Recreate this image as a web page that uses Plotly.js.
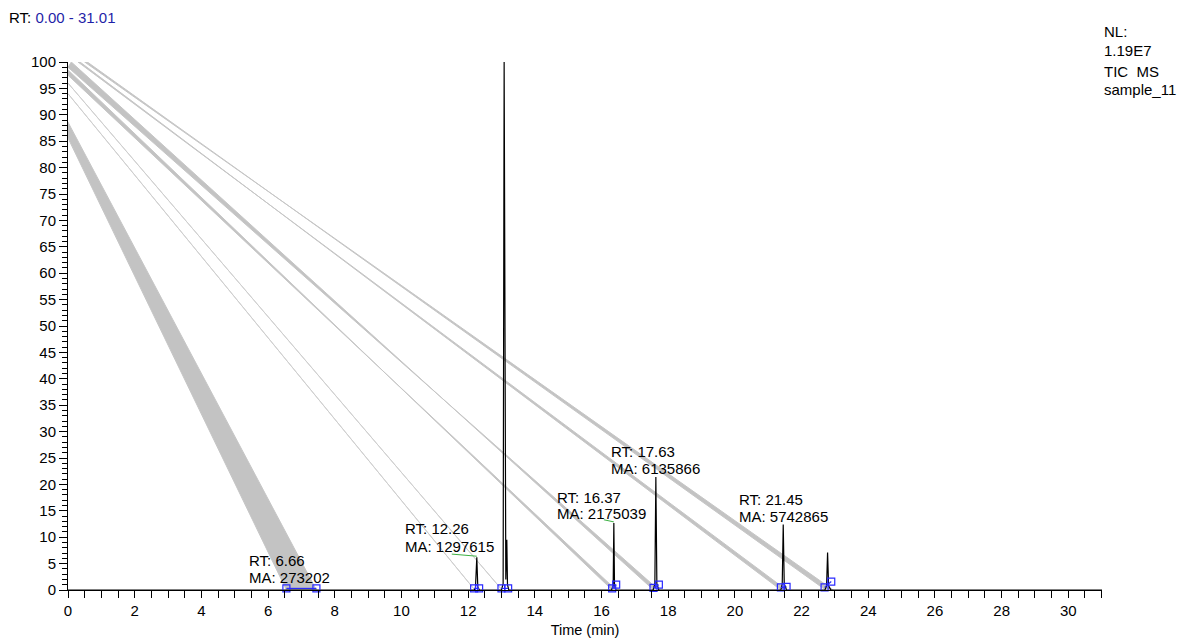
<!DOCTYPE html>
<html><head><meta charset="utf-8">
<script src="https://cdn.plot.ly/plotly-3.0.1.min.js"></script>
<style>html,body{margin:0;padding:0;background:#fff;}#chart{width:1179px;height:639px;}</style>
</head><body><div id="chart"></div>
<script>
// ---- chromatogram (time in min, relative abundance %) ----
const timePts   = [0, 6.5, 6.66, 7.5, 12.18, 12.22, 12.26, 12.29, 12.34, 13.0, 13.05, 13.08, 13.11, 13.13, 13.16, 13.18, 13.22, 16.3, 16.35, 16.37, 16.39, 16.43, 17.55, 17.6, 17.63, 17.66, 17.72, 21.38, 21.42, 21.45, 21.48, 21.55, 22.7, 22.75, 22.78, 22.81, 22.88, 31.01];
const abundance = [0, 0, 0.1, 0, 0, 0.4, 6.2, 0.5, 0, 0, 1.2, 100, 3, 2, 9.5, 1, 0, 0, 0.8, 12.7, 0.8, 0, 0, 1.2, 21.4, 1.2, 0, 0, 1.2, 12.4, 1.2, 0, 0, 0.8, 7.1, 0.8, 0, 0];

// ---- integrated peaks ----
const peakRT     = [6.66, 12.26, 13.08, 16.37, 17.63, 21.45, 22.78];
const peakArea   = [273202, 1297615, 24352650, 2175039, 6135866, 5742865, null];
const peakHeight = [0.1, 6.2, 100, 12.7, 21.4, 12.4, 7.1];
const baseStartT = [6.55, 12.18, 13.0, 16.32, 17.56, 21.38, 22.69];
const baseEndT   = [7.45, 12.33, 13.2, 16.44, 17.72, 21.55, 22.89];
const baseStartY = [0.3, 0.3, 0.3, 0.3, 0.4, 0.5, 0.5];
const baseEndY   = [0.3, 0.3, 0.3, 1.0, 1.0, 0.6, 1.6];
// mis-drawn area-fill polygons: two apexes near the origin, two feet on the time axis
const apexT1 = [0, 0, 0, 0, 0, 0.3, 0.5];
const apexY1 = [88.6, 94, 96, 97.5, 99, 100, 100];
const apexT2 = [0, 0, 0, 0, 0.1, 0.36, 0.58];
const apexY2 = [85.6, 94, 96, 98.5, 100, 100, 100];
const footT1 = [7.45, 12.2, 13.02, 16.44, 17.72, 21.55, 22.95];
const footT2 = [6.55, 12.2, 13.02, 16.32, 17.56, 21.38, 22.72];

// ---- header texts ----
const rangeText = ["RT: ", "0.00 - 31.01"];
const nlText = ["NL:", "1.19E7", "TIC  MS", "sample_11"];

// label layout (left edge time, line-1 and line-2 abundance)
const labelT  = [5.39, 10.07, 11.57, 14.65, 16.24, 20.08];
const labelY1 = [5.5, 11.7, 105.3, 17.6, 26.3, 17.2];
const labelY2 = [2.3, 8.3, 102.1, 14.4, 23.1, 14.0];

const FONT = "Liberation Sans, Arial, sans-serif";
const traces = [];

// gray fills
for (let i = 0; i < peakRT.length; i++) {
  const thin = footT1[i] === footT2[i] && apexY1[i] === apexY2[i];
  traces.push({
    x: [apexT1[i], footT1[i], footT2[i], apexT2[i], apexT1[i]],
    y: [apexY1[i], 0, 0, apexY2[i], apexY1[i]],
    type: 'scatter', mode: 'lines', fill: thin ? 'none' : 'toself',
    fillcolor: '#c3c3c3', line: {color: thin ? '#cfcfcf' : '#c6c6c6', width: 1},
    hoverinfo: 'skip', showlegend: false
  });
}
// chromatogram
traces.push({x: timePts, y: abundance, type: 'scatter', mode: 'lines',
  line: {color: '#000', width: 1.2}, showlegend: false, hoverinfo: 'skip'});
// baselines + markers
for (let i = 0; i < peakRT.length; i++) {
  traces.push({x: [baseStartT[i], baseEndT[i]], y: [baseStartY[i], baseEndY[i]],
    type: 'scatter', mode: 'lines+markers', line: {color: '#2a2aff', width: 1.2},
    marker: {symbol: 'square-open', size: 7, color: '#2a2aff', line: {width: 1.2}},
    showlegend: false, hoverinfo: 'skip', cliponaxis: false});
}
// green leader lines for two labels
[1, 3].forEach(i => {
  traces.push({x: [peakRT[i] - (i === 1 ? 0.75 : 0.3), peakRT[i]], y: [peakHeight[i] + 0.6, peakHeight[i] + 0.2],
    type: 'scatter', mode: 'lines', line: {color: '#3cb043', width: 1},
    showlegend: false, hoverinfo: 'skip'});
});

const annotations = [];
for (let i = 0; i < labelT.length; i++) {
  annotations.push({x: labelT[i], y: labelY1[i], xref: 'x', yref: 'y', xanchor: 'left', yanchor: 'middle',
    text: 'RT: ' + peakRT[i].toFixed(2), showarrow: false, font: {family: FONT, size: 15, color: '#000'}, borderpad: 0});
  annotations.push({x: labelT[i], y: labelY2[i], xref: 'x', yref: 'y', xanchor: 'left', yanchor: 'middle',
    text: 'MA: ' + peakArea[i], showarrow: false, font: {family: FONT, size: 15, color: '#000'}, borderpad: 0});
}
// header (pixel based -> paper)
const W = 1179, H = 639, L = 68, R = 77, T = 62, B = 49;
const pw = W - L - R, ph = H - T - B;
function px(xp) { return (xp - L) / pw; }
function py(yp) { return (H - B - yp) / ph; }
annotations.push({x: px(8), y: py(17), xref: 'paper', yref: 'paper', xanchor: 'left', yanchor: 'middle',
  text: rangeText[0] + '<span style="color:#1f1fa8">' + rangeText[1] + '</span>', showarrow: false,
  font: {family: FONT, size: 15, color: '#000'}, borderpad: 0});
const nlY = [32, 50, 71, 89];
nlText.forEach((t, k) => annotations.push({x: px(1103), y: py(nlY[k]), xref: 'paper', yref: 'paper',
  xanchor: 'left', yanchor: 'middle', text: t, showarrow: false, font: {family: FONT, size: 15, color: '#000'}, borderpad: 0}));

const layout = {
  width: W, height: H, margin: {l: L, r: R, t: T, b: B, pad: 0},
  paper_bgcolor: '#fff', plot_bgcolor: '#fff', showlegend: false,
  font: {family: FONT, size: 15, color: '#000'},
  xaxis: {range: [0, 31.01], tickmode: 'linear', tick0: 0, dtick: 2, ticks: 'outside', ticklen: 7, tickwidth: 1,
    tickcolor: '#000', showline: true, linecolor: '#000', linewidth: 1, showgrid: false, zeroline: false,
    tickfont: {family: FONT, size: 15, color: '#000'},
    minor: {tick0: 0, dtick: 0.5, ticks: 'outside', ticklen: 7, tickcolor: '#000', tickwidth: 1, showgrid: false},
    title: {text: 'Time (min)', font: {family: FONT, size: 14.5, color: '#000'}, standoff: 6}},
  yaxis: {range: [0, 100], tickmode: 'linear', tick0: 0, dtick: 5, ticks: 'outside', ticklen: 8, tickwidth: 1,
    tickcolor: '#000', showline: true, linecolor: '#000', linewidth: 1, showgrid: false, zeroline: false,
    tickfont: {family: FONT, size: 15, color: '#000'},
    minor: {tick0: 0, dtick: 1, ticks: 'outside', ticklen: 5, tickcolor: '#000', tickwidth: 1, showgrid: false}},
  annotations: annotations
};
Plotly.newPlot('chart', traces, layout, {staticPlot: true, displayModeBar: false});
</script></body></html>
